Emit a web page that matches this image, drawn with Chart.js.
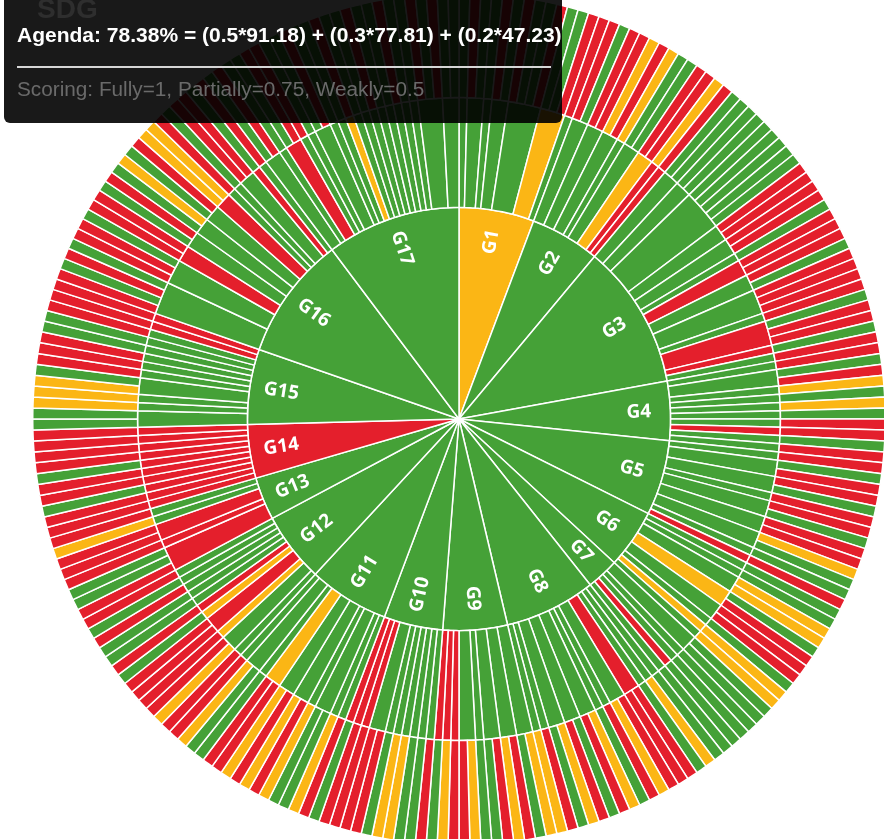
<!DOCTYPE html>
<html>
<head>
<meta charset="utf-8">
<title>SDG</title>
<script src="https://cdn.jsdelivr.net/npm/chart.js@4.4.1/dist/chart.umd.min.js"></script>
<style>
  html, body { margin: 0; padding: 0; background: #fff; overflow: hidden; }
  body { width: 884px; height: 839px; position: relative; }
  #wrap { position: absolute; left: 32px; top: -8px; width: 854px; height: 854px; }
  #tip { position: absolute; left: 4px; top: -10px; width: 558px; height: 133px; background: rgba(0,0,0,0.9); border-radius: 6px; font-family: Arial, "Liberation Sans", sans-serif; }
  #title { position: absolute; left: 37px; top: -7px; font: bold 28px Arial, "Liberation Sans", sans-serif; color: #2e2e2e; }
  #tip .l1 { position: absolute; left: 13px; top: 33px; font-size: 21px; font-weight: bold; line-height: 24px; color: #fff; white-space: nowrap; }
  #tip .sep { position: absolute; left: 13px; top: 76px; width: 534px; height: 2px; background: #d6d6d6; }
  #tip .l2 { position: absolute; left: 13px; top: 87px; font-size: 20.75px; line-height: 24px; color: #6a6a6a; white-space: nowrap; }
</style>
</head>
<body>
<div id="wrap"><canvas id="sdg" width="854" height="854"></canvas></div>
<div id="tip">
  <div class="l1">Agenda: 78.38% = (0.5*91.18) + (0.3*77.81) + (0.2*47.23)</div>
  <div class="sep"></div>
  <div class="l2">Scoring: Fully=1, Partially=0.75, Weakly=0.5</div>
</div>
<div id="title">SDG</div>
<script>
// F = fully, W = weakly, N = not aligned
const goalLabels = ['G1', 'G2', 'G3', 'G4', 'G5', 'G6', 'G7', 'G8', 'G9', 'G10', 'G11', 'G12', 'G13', 'G14', 'G15', 'G16', 'G17'];
const goalIndicatorCounts = [14, 13, 27, 11, 14, 11, 6, 17, 12, 11, 15, 13, 8, 10, 14, 23, 25];
const goalStatus = ['W', 'F', 'F', 'F', 'F', 'F', 'F', 'F', 'F', 'F', 'F', 'F', 'F', 'N', 'F', 'F', 'F'];

// indicators per target, one list per goal
const targetIndicatorCounts = [
    [1, 2, 1, 2, 4, 3, 1],
    [2, 2, 2, 1, 2, 2, 1, 1],
    [2, 2, 5, 2, 2, 1, 2, 2, 3, 1, 3, 1, 1],
    [1, 2, 1, 1, 1, 1, 1, 1, 1, 1],
    [1, 2, 2, 1, 2, 2, 2, 1, 1],
    [1, 1, 2, 2, 2, 1, 1, 1],
    [2, 1, 1, 1, 1],
    [1, 1, 1, 2, 2, 1, 1, 2, 2, 2, 1, 1],
    [2, 2, 2, 1, 2, 1, 1, 1],
    [1, 1, 1, 1, 1, 1, 2, 1, 1, 1],
    [1, 1, 2, 1, 2, 2, 2, 1, 2, 1],
    [1, 2, 1, 2, 1, 1, 1, 1, 1, 1, 1],
    [3, 1, 2, 1, 1],
    [1, 1, 1, 1, 1, 1, 1, 1, 1, 1],
    [2, 1, 1, 2, 1, 1, 1, 1, 1, 1, 1, 1],
    [4, 3, 2, 2, 2, 2, 2, 1, 1, 2, 1, 1],
    [2, 1, 2, 1, 1, 2, 1, 1, 1, 1, 1, 1, 1, 1, 1, 1, 1, 3, 2]
];

const targetStatus = [
    'FFFFFWF',
    'FFFFFWNN',
    'FFFFFFNFFFNNF',
    'FFFFFFFNFF',
    'FFFFFFFFN',
    'FFFWFFWF',
    'FFFNF',
    'FFFNFFFFFFFF',
    'FFFFFNNN',
    'FFFFFFFNNN',
    'FFFFFFWFFF',
    'FFWNWNFFFFF',
    'NNNFF',
    'NNNNNNNNNN',
    'FFFFFFFFFFNN',
    'FFNFFFNFFFNF',
    'FFNFFFFFWFFFFFFFFFF'
];

const indicatorStatus = [
    'FNFFNFNFFNFFNN',
    'NFNNWNWFFNNWN',
    'FFFFFFFFFNNNNFNNNFNNNNFNNFN',
    'NFNWFWFNNFN',
    'NFNNFNNFNNWFFN',
    'FFWWFNNNFWW',
    'FFFFFF',
    'FWFNNNWNFWNFNWFNW',
    'WFNWNFFWNNWF',
    'NFFWWFNNNNF',
    'NWFFWNWNWNNFFWN',
    'NWNNNNFNFFNFN',
    'NFFNNNWN',
    'NNFNNFNNNN',
    'FFWWWFNNNFFNNN',
    'NFNFNNFNNFNFWFNWWNFNNFN',
    'FNFFNNFFNFFNFFNFFNFFNFNFF'
];

const statusColors = { F: '#45a137', W: '#fbb615', N: '#e41f2c' };

const indicatorCodes = indicatorStatus.join('').split('');
const targetCodes = targetStatus.join('').split('');

const goalLabelPlugin = {
    id: 'goalLabels',
    afterDatasetsDraw(chart) {
        const ctx = chart.ctx;
        const meta = chart.getDatasetMeta(2);
        ctx.save();
        ctx.fillStyle = '#fff';
        ctx.font = 'bold 19px "Open Sans", sans-serif';
        ctx.textAlign = 'center';
        ctx.textBaseline = 'middle';
        meta.data.forEach((arc, i) => {
            const p = arc.getProps(['x', 'y', 'startAngle', 'endAngle', 'outerRadius']);
            const mid = (p.startAngle + p.endAngle) / 2;
            const r = p.outerRadius * 0.85;
            ctx.save();
            ctx.translate(p.x + r * Math.cos(mid), p.y + r * Math.sin(mid));
            ctx.rotate(mid > Math.PI / 2 ? mid - Math.PI : mid);
            ctx.fillText(goalLabels[i], 0, 0);
            ctx.restore();
        });
        ctx.restore();
    }
};

new Chart(document.getElementById('sdg'), {
    type: 'doughnut',
    data: {
        labels: goalLabels,
        datasets: [
            {
                label: 'Indicators',
                data: indicatorCodes.map(() => 1),
                backgroundColor: indicatorCodes.map(c => statusColors[c]),
                borderColor: '#fff',
                borderWidth: 1.5,
                weight: 105
            },
            {
                label: 'Targets',
                data: targetIndicatorCounts.flat(),
                backgroundColor: targetCodes.map(c => statusColors[c]),
                borderColor: '#fff',
                borderWidth: 1.5,
                weight: 110
            },
            {
                label: 'Goals',
                data: goalIndicatorCounts,
                backgroundColor: goalStatus.map(c => statusColors[c]),
                borderColor: '#fff',
                borderWidth: 1.5,
                weight: 212
            }
        ]
    },
    options: {
        responsive: false,
        animation: false,
        devicePixelRatio: 1,
        cutout: 0,
        events: [],
        plugins: {
            legend: { display: false },
            tooltip: { enabled: false }
        }
    },
    plugins: [goalLabelPlugin]
});
</script>
</body>
</html>
